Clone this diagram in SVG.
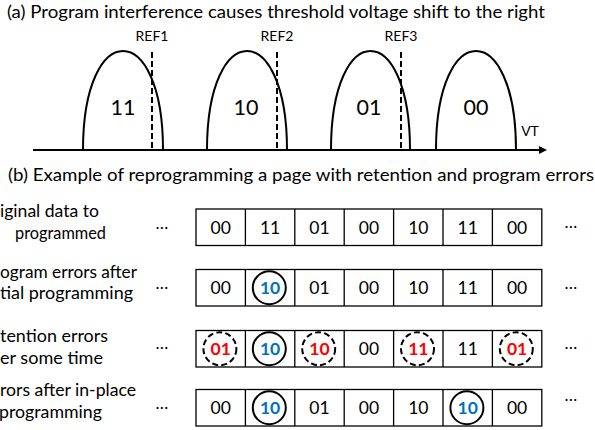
<svg xmlns="http://www.w3.org/2000/svg" width="595" height="430" viewBox="0 0 595 430">
<defs>
<style>
.t{font-family:Lato,"Liberation Sans",sans-serif;fill:#000}
.title{font-size:17.5px}
.lbl{font-size:17.5px}
.ref{font-size:14px;text-anchor:middle}
.big{font-size:21.5px;text-anchor:middle}
.cell{font-size:17.5px;text-anchor:middle}
.blue{font-weight:bold;fill:#0070C0}
.red{font-weight:bold;fill:#FF0000}
.dots{font-size:17px;text-anchor:middle}
.curve{fill:none;stroke:#000;stroke-width:2}
.refl{fill:none;stroke:#000;stroke-width:2;stroke-dasharray:6 3}
.box{fill:none;stroke:#000;stroke-width:1.3}
.solid{fill:none;stroke:#000;stroke-width:2}
.dash{fill:none;stroke:#000;stroke-width:2;stroke-dasharray:6 3.2}
</style>
<marker id="arr" markerUnits="userSpaceOnUse" markerWidth="9" markerHeight="9" refX="0" refY="4" orient="auto">
<path d="M0,0 L8,4 L0,8 z" fill="#000"/>
</marker>
</defs>
<rect width="595" height="430" fill="#fff"/>

<text class="t title" x="7" y="18" textLength="538" lengthAdjust="spacingAndGlyphs">(a)  Program interference causes threshold voltage shift to the right</text>

<g id="connectors">
<line x1="33" y1="150" x2="539" y2="150" stroke="#000" stroke-width="2" marker-end="url(#arr)"/>
</g>

<g id="state11">
<path class="curve" d="M83,150 C83,18 163,18 163,150"/>
<text class="t big" x="123" y="115">11</text>
</g>
<g id="state10">
<path class="curve" d="M207,150 C207,18 287,18 287,150"/>
<text class="t big" x="246" y="115">10</text>
</g>
<g id="state01">
<path class="curve" d="M331,150 C331,18 410,18 410,150"/>
<text class="t big" x="369" y="115">01</text>
</g>
<g id="state00">
<path class="curve" d="M436,150 C436,18 516,18 516,150"/>
<text class="t big" x="476" y="115">00</text>
</g>
<g id="ref1">
<line class="refl" x1="152" y1="52" x2="152" y2="150"/>
<text class="t ref" x="152" y="41">REF1</text>
</g>
<g id="ref2">
<line class="refl" x1="277" y1="52" x2="277" y2="150"/>
<text class="t ref" x="277" y="41">REF2</text>
</g>
<g id="ref3">
<line class="refl" x1="401" y1="52" x2="401" y2="150"/>
<text class="t ref" x="401" y="41">REF3</text>
</g>
<g id="vt">
<text class="t ref" x="530" y="136">VT</text>
</g>

<text class="t title" x="8" y="181" textLength="586" lengthAdjust="spacingAndGlyphs">(b)  Example of reprogramming a page with retention and program errors</text>

<g id="row1">
<text class="t lbl" x="0" y="217" textLength="99" lengthAdjust="spacingAndGlyphs">iginal data to</text>
<text class="t lbl" x="15" y="239" textLength="91" lengthAdjust="spacingAndGlyphs">programmed</text>
<text class="t dots" x="162" y="229">…</text>
<rect class="box" x="196" y="209" width="345.8" height="36.5"/>
<path class="box" d="M245.4,209v36.5M294.8,209v36.5M344.2,209v36.5M393.6,209v36.5M443,209v36.5M492.4,209v36.5"/>
<text class="t cell" x="220.7" y="233.5">00</text>
<text class="t cell" x="270.1" y="233.5">11</text>
<text class="t cell" x="319.5" y="233.5">01</text>
<text class="t cell" x="368.9" y="233.5">00</text>
<text class="t cell" x="418.3" y="233.5">10</text>
<text class="t cell" x="467.7" y="233.5">11</text>
<text class="t cell" x="517.1" y="233.5">00</text>
<text class="t dots" x="571" y="228">…</text>
</g>

<g id="row2">
<text class="t lbl" x="0" y="278" textLength="137" lengthAdjust="spacingAndGlyphs">ogram errors after</text>
<text class="t lbl" x="0" y="299" textLength="133" lengthAdjust="spacingAndGlyphs">tial programming</text>
<text class="t dots" x="162" y="289">…</text>
<rect class="box" x="196" y="269.5" width="345.8" height="36.5"/>
<path class="box" d="M245.4,269.5v36.5M294.8,269.5v36.5M344.2,269.5v36.5M393.6,269.5v36.5M443,269.5v36.5M492.4,269.5v36.5"/>
<text class="t cell" x="220.7" y="294">00</text>
<circle class="solid" cx="269.3" cy="287.75" r="16.5"/>
<text class="t cell blue" x="270.1" y="294">10</text>
<text class="t cell" x="319.5" y="294">01</text>
<text class="t cell" x="368.9" y="294">00</text>
<text class="t cell" x="418.3" y="294">10</text>
<text class="t cell" x="467.7" y="294">11</text>
<text class="t cell" x="517.1" y="294">00</text>
<text class="t dots" x="571" y="289">…</text>
</g>

<g id="row3">
<text class="t lbl" x="0" y="342" textLength="108" lengthAdjust="spacingAndGlyphs">tention errors</text>
<text class="t lbl" x="0" y="364" textLength="103" lengthAdjust="spacingAndGlyphs">er some time</text>
<text class="t dots" x="162" y="349">…</text>
<rect class="box" x="196" y="330.5" width="345.8" height="36.5"/>
<path class="box" d="M245.4,330.5v36.5M294.8,330.5v36.5M344.2,330.5v36.5M393.6,330.5v36.5M443,330.5v36.5M492.4,330.5v36.5"/>
<circle class="dash" cx="219.9" cy="348.75" r="16.5"/>
<text class="t cell red" x="220.7" y="355">01</text>
<circle class="solid" cx="269.3" cy="348.75" r="16.5"/>
<text class="t cell blue" x="270.1" y="355">10</text>
<circle class="dash" cx="318.7" cy="348.75" r="16.5"/>
<text class="t cell red" x="319.5" y="355">10</text>
<text class="t cell" x="368.9" y="355">00</text>
<circle class="dash" cx="417.5" cy="348.75" r="16.5"/>
<text class="t cell red" x="418.3" y="355">11</text>
<text class="t cell" x="467.7" y="355">11</text>
<circle class="dash" cx="516.3" cy="348.75" r="16.5"/>
<text class="t cell red" x="517.1" y="355">01</text>
<text class="t dots" x="571" y="349">…</text>
</g>

<g id="row4">
<text class="t lbl" x="0" y="396" textLength="136" lengthAdjust="spacingAndGlyphs">rors after in-place</text>
<text class="t lbl" x="-1" y="418" textLength="103" lengthAdjust="spacingAndGlyphs">programming</text>
<text class="t dots" x="162" y="409">…</text>
<rect class="box" x="196" y="389.5" width="345.8" height="36.5"/>
<path class="box" d="M245.4,389.5v36.5M294.8,389.5v36.5M344.2,389.5v36.5M393.6,389.5v36.5M443,389.5v36.5M492.4,389.5v36.5"/>
<text class="t cell" x="220.7" y="414">00</text>
<circle class="solid" cx="269.3" cy="407.75" r="16.5"/>
<text class="t cell blue" x="270.1" y="414">10</text>
<text class="t cell" x="319.5" y="414">01</text>
<text class="t cell" x="368.9" y="414">00</text>
<text class="t cell" x="418.3" y="414">10</text>
<circle class="solid" cx="466.9" cy="407.75" r="16.5"/>
<text class="t cell blue" x="467.7" y="414">10</text>
<text class="t cell" x="517.1" y="414">00</text>
<text class="t dots" x="571" y="401">…</text>
</g>
</svg>
